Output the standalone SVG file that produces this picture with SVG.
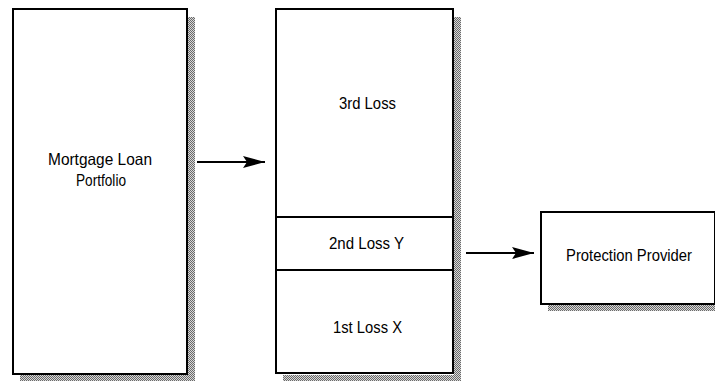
<svg xmlns="http://www.w3.org/2000/svg" width="715" height="381" viewBox="0 0 715 381">
<defs>
<pattern id="dots" width="2" height="2" patternUnits="userSpaceOnUse">
<rect width="2" height="2" fill="#d8d8d8"/>
<rect width="1" height="1" fill="#6a6a6a"/>
<rect x="1" y="1" width="1" height="1" fill="#6a6a6a"/>
</pattern>
<marker id="ah" markerWidth="22" markerHeight="14" refX="22" refY="7" orient="auto" markerUnits="userSpaceOnUse">
<path d="M0,1 L22,7 L0,13 L4,7 Z" fill="#000"/>
</marker>
<style>
.box{fill:#fff;stroke:#000;stroke-width:2}
.sh{fill:url(#dots)}
.t{font-family:"Liberation Sans",Arial,sans-serif;font-size:16.5px;fill:#000;text-anchor:middle}
.ln{stroke:#000;stroke-width:2;fill:none}
</style>
</defs>
<rect width="715" height="381" fill="#fff"/>
<g id="portfolio">
<rect class="sh" x="188" y="17" width="7" height="364"/>
<rect class="sh" x="20" y="375" width="175" height="6"/>
<rect class="box" x="13" y="9" width="174" height="365"/>
<text class="t" x="100" y="165" textLength="104" lengthAdjust="spacingAndGlyphs">Mortgage Loan</text>
<text class="t" x="101" y="186" textLength="50" lengthAdjust="spacingAndGlyphs">Portfolio</text>
</g>
<g id="tranches">
<rect class="sh" x="454" y="17" width="7" height="364"/>
<rect class="sh" x="283" y="375" width="178" height="6"/>
<rect class="box" x="276" y="9" width="177" height="364"/>
<line class="ln" x1="276" y1="217" x2="453" y2="217"/>
<line class="ln" x1="276" y1="270" x2="453" y2="270"/>
<text class="t" x="367.5" y="109" textLength="57" lengthAdjust="spacingAndGlyphs">3rd Loss</text>
<text class="t" x="366.5" y="249" textLength="75" lengthAdjust="spacingAndGlyphs">2nd Loss Y</text>
<text class="t" x="367.5" y="333" textLength="69" lengthAdjust="spacingAndGlyphs">1st Loss X</text>
</g>
<g id="provider">
<rect class="sh" x="548" y="305" width="167" height="6"/>
<rect class="box" x="541" y="212" width="174" height="92"/>
<text class="t" x="629" y="261" textLength="126" lengthAdjust="spacingAndGlyphs">Protection Provider</text>
</g>
<g id="connectors">
<line class="ln" x1="197" y1="162" x2="265" y2="162" marker-end="url(#ah)"/>
<line class="ln" x1="466" y1="253" x2="534" y2="253" marker-end="url(#ah)"/>
</g>
</svg>
